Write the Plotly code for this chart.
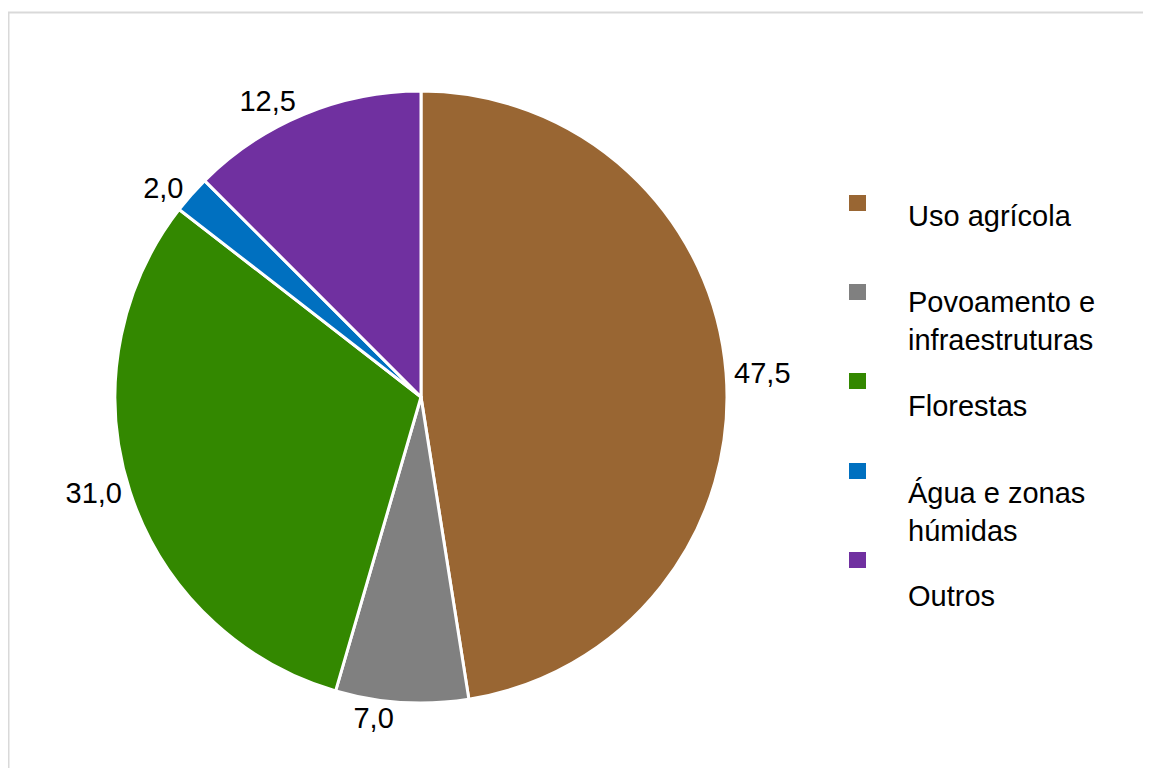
import plotly.graph_objects as go

# ---- data ----
categories = ["Uso agrícola", "Povoamento e infraestruturas", "Florestas",
              "Água e zonas húmidas", "Outros"]
legend_text = ["Uso agrícola", "Povoamento e<br>infraestruturas", "Florestas",
               "Água e zonas<br>húmidas", "Outros"]
values = [47.5, 7.0, 31.0, 2.0, 12.5]
colors = ["#996633", "#808080", "#338800", "#0070C0", "#7030A0"]

# ---- layout helpers (page pixel -> paper); page body has an 8px margin ----
OFF = 8
W, H = 1151 - 2 * OFF, 776 - 2 * OFF
def px(x):
    return (x - OFF) / W
def py(y):
    return 1 - (y - OFF) / H

FONT = "Liberation Sans, Arial, sans-serif"
FS = 29
CX, CY, R = 421, 397, 306

fig = go.Figure(go.Pie(
    labels=categories,
    values=values,
    sort=False,
    direction="clockwise",
    rotation=0,
    marker=dict(colors=colors, line=dict(color="white", width=3)),
    textposition="outside",
    texttemplate="%{value:.1f}",
    outsidetextfont=dict(family=FONT, size=FS, color="black"),
    hoverinfo="skip",
    showlegend=False,
    domain=dict(x=[px(CX - R), px(CX + R)], y=[py(CY + R), py(CY - R)]),
))

shapes = []
annotations = []
# outer frame (top and left visible)
shapes.append(dict(type="rect", xref="paper", yref="paper",
                   x0=px(8.5), x1=1.02, y0=-0.02, y1=py(12.5),
                   line=dict(color="#d9d9d9", width=2), fillcolor="rgba(0,0,0,0)"))

# custom legend (Excel style: marker above-left of text)
marker_tops = [195, 284, 373, 463, 552]
text_centers = [216, 321, 406, 512, 596]
for name, col, mt, tc in zip(legend_text, colors, marker_tops, text_centers):
    shapes.append(dict(type="rect", xref="paper", yref="paper",
                       x0=px(849), x1=px(866), y0=py(mt + 16), y1=py(mt),
                       line=dict(width=0), fillcolor=col))
    annotations.append(dict(xref="paper", yref="paper", x=px(906), y=py(tc),
                            xanchor="left", yanchor="middle", align="left",
                            text=name, showarrow=False,
                            font=dict(family=FONT, size=FS, color="black")))

fig.update_layout(
    width=W, height=H,
    margin=dict(l=0, r=0, t=0, b=0),
    paper_bgcolor="white", plot_bgcolor="white",
    separators=",.",
    font=dict(family=FONT, size=FS, color="black"),
    shapes=shapes,
    annotations=annotations,
)

fig.write_html("out.html")
